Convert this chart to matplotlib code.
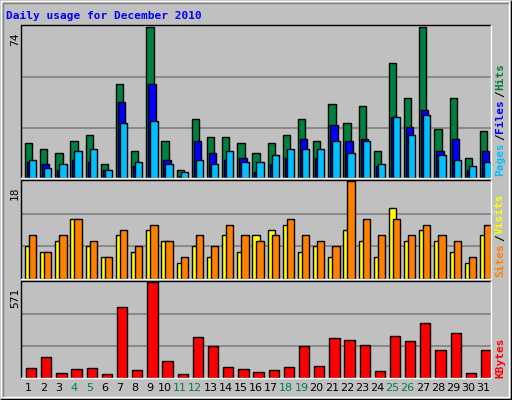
import numpy as np
import matplotlib.pyplot as plt
from matplotlib.patches import Rectangle

days = list(range(1, 32))
hits = [17, 14, 12, 18, 21, 7, 46, 13, 74, 18, 4, 29, 20, 20, 17, 12,
        17, 21, 29, 18, 36, 27, 35, 13, 56, 39, 74, 24, 39, 10, 23]
files = [8, 7, 4, 9, 8, 4, 37, 6, 46, 9, 1, 18, 12, 9, 10, 3,
         7, 10, 19, 10, 26, 18, 19, 6, 30, 25, 33, 13, 19, 4, 13]
pages = [9, 5, 7, 13, 14, 4, 27, 8, 28, 7, 3, 9, 7, 13, 8, 8,
         11, 14, 14, 14, 18, 12, 18, 7, 30, 21, 31, 11, 9, 6, 8]
visits = [6, 5, 7, 11, 6, 4, 8, 5, 9, 7, 3, 6, 4, 8, 5, 8,
          9, 10, 5, 6, 4, 9, 7, 4, 13, 7, 9, 7, 5, 3, 8]
sites = [8, 5, 8, 11, 7, 4, 9, 6, 10, 7, 4, 8, 6, 10, 8, 7,
         8, 11, 8, 7, 6, 18, 11, 8, 11, 8, 10, 8, 7, 4, 10]
kbytes = [58, 127, 27, 52, 58, 21, 421, 46, 571, 102, 21, 246, 190, 65, 52, 33,
          46, 65, 190, 71, 240, 227, 196, 40, 252, 221, 327, 165, 265, 27, 165]
weekend = [4, 5, 11, 12, 18, 19, 25, 26]

W, H = 512, 400
BG = '#C0C0C0'
fig = plt.figure(figsize=(W / 100, H / 100), dpi=100, facecolor=BG)
mono = 'DejaVu Sans Mono'

def px_axes(x0, y0, x1, y1):
    return fig.add_axes([x0 / W, 1 - y1 / H, (x1 - x0) / W, (y1 - y0) / H])

def bevel(x0, y0, x1, y1, dark='black', light='white'):
    f = lambda x, y: (x / W, 1 - y / H)
    fig.add_artist(plt.Line2D(*zip(f(x0, y1), f(x0, y0), f(x1, y0)), color=dark, lw=1))
    fig.add_artist(plt.Line2D(*zip(f(x0, y1), f(x1, y1), f(x1, y0)), color=light, lw=1))

# outer frame
bevel(1, 1, 511, 399, dark='white', light='black')
bevel(3, 3, 509, 397, dark='#808080', light='white')

fig.text(6 / W, 1 - 16 / H, 'Daily usage for December 2010', color='#0000FF',
         family=mono, weight='bold', fontsize=8, va='center')

slot = 470 / 31

def panel(y0, y1, ymax, ntick):
    ax = px_axes(21, y0, 491, y1)
    ax.set_facecolor(BG)
    ax.set_xlim(0.5, 31.5)
    ax.set_ylim(0, ymax * 1.01)
    for v in np.linspace(0, ymax, ntick + 1)[1:-1]:
        ax.axhline(v, color='#808080', lw=1.2, zorder=0)
    ax.set_xticks([])
    ax.set_yticks([])
    for s in ax.spines.values():
        s.set_visible(False)
    bevel(21, y0, 491, y1)
    return ax

d = np.array(days, dtype=float)
bw = 7.3 / slot
kw = dict(edgecolor='black', linewidth=1, align='edge')

ax1 = panel(25, 178, 74, 3)
ax1.bar(d - 0.5 + 4 / slot, hits, bw, color='#008040', **kw)
ax1.bar(d - 0.5 + 6 / slot, files, bw, color='#0000FF', **kw)
ax1.bar(d - 0.5 + 8 / slot, pages, bw, color='#00C0FF', **kw)

ax2 = panel(180, 279, 18, 3)
ax2.bar(d - 0.5 + 4 / slot, visits, bw, color='#FFFF00', **kw)
ax2.bar(d - 0.5 + 8 / slot, sites, bw, color='#FF8000', **kw)

ax3 = panel(281, 378, 571, 3)
ax3.bar(d - 0.5 + 5 / slot, kbytes, 10.3 / slot, color='#FF0000', **kw)

# max labels on the left
for y, t in [(32, '74'), (187, '18'), (288, '571')]:
    fig.text(15 / W, 1 - y / H, t, rotation=90, family=mono, fontsize=8,
             ha='center', va='top')

# right-side legends (read bottom to top)
def vlegend(y_bottom, parts):
    y = y_bottom
    for txt, col in parts:
        fig.text(500 / W, 1 - y / H, txt, rotation=90, color=col, family=mono,
                 weight='bold', fontsize=8, ha='center', va='bottom')
        y -= len(txt) * 7.2

vlegend(176, [('Pages', '#00C0FF'), ('/', 'black'), ('Files', '#0000FF'),
              ('/', 'black'), ('Hits', '#008040')])
vlegend(277, [('Sites', '#FF8000'), ('/', 'black'), ('Visits', '#FFFF00')])
vlegend(378, [('KBytes', '#FF0000')])

for day in days:
    x = 21 + (day - 0.5) * slot
    fig.text(x / W, 1 - 388 / H, str(day), ha='center', va='center', fontsize=8,
             color='#008040' if day in weekend else 'black')

fig.savefig('out.png', dpi=100, facecolor=BG)
